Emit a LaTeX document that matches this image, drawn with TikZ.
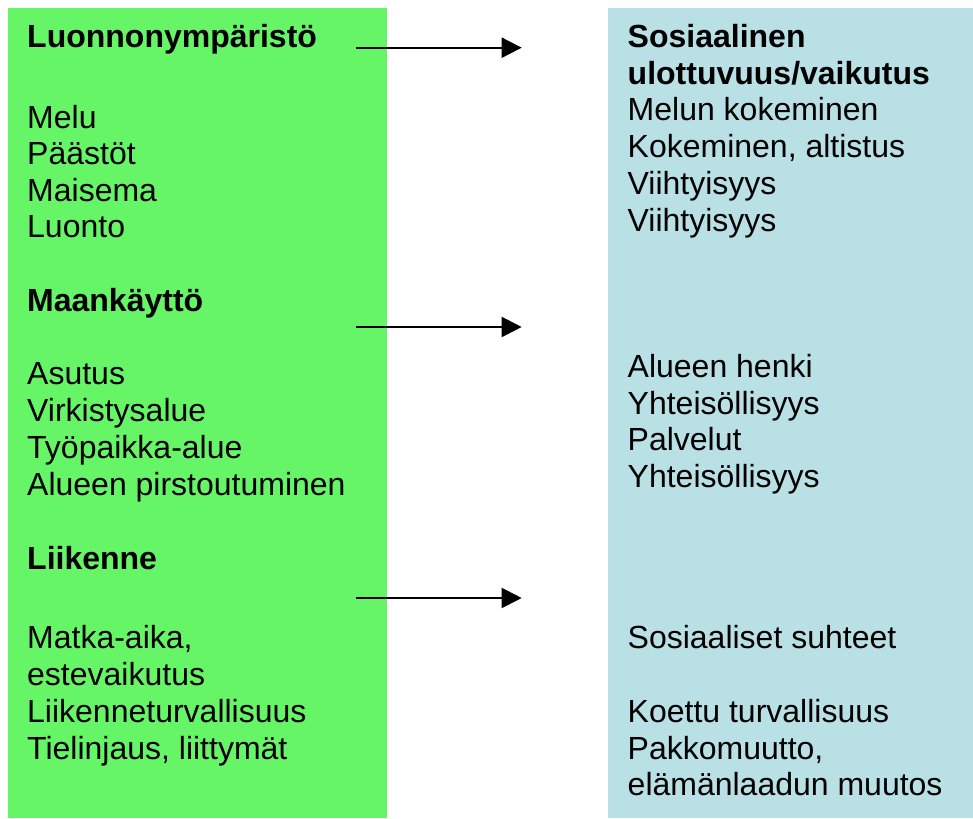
\documentclass[tikz,border=0pt]{standalone}
\usepackage{fontspec}
\setmainfont{Liberation Sans}
\usepackage{tikz}
\usetikzlibrary{arrows.meta}
\definecolor{luontogreen}{RGB}{102,245,102}
\definecolor{sosblue}{RGB}{185,224,228}
\tikzset{
  rivi/.style={anchor=base west, inner sep=0pt, font=\fontsize{32}{36.6}\selectfont},
  otsikko/.style={rivi, font=\fontsize{32}{36.6}\selectfont\bfseries},
  nuoli/.style={line width=2pt, -{Triangle[length=20pt,width=20pt]}}
}

\begin{document}
\begin{tikzpicture}[x=1pt, y=-1pt]
        \useasboundingbox (0,0) rectangle (973,818);
        \fill[luontogreen] (8,8) rectangle (387,818);
        \fill[sosblue] (608,8) rectangle (973,818);
        % vasen sarake
        \node[otsikko] (luonto) at (27,47.5) {Luonnonympäristö};
        \node[rivi] (melu) at (27,128.3) {Melu};
        \node[rivi] (paastot) at (27,164.8) {Päästöt};
        \node[rivi] (maisema) at (27,201.3) {Maisema};
        \node[rivi] (luontoa) at (27,237.8) {Luonto};
        \node[otsikko] (maankaytto) at (27,311.7) {Maankäyttö};
        \node[rivi] (asutus) at (27,384.5) {Asutus};
        \node[rivi] (virkistys) at (27,421.5) {Virkistysalue};
        \node[rivi] (tyopaikka) at (27,458.3) {Työpaikka-alue};
        \node[rivi] (pirstoutuminen) at (27,495.5) {Alueen pirstoutuminen};
        \node[otsikko] (liikenne) at (27,569) {Liikenne};
        \node[rivi] (matka) at (27,648.3) {Matka-aika,};
        \node[rivi] (este) at (27,685.5) {estevaikutus};
        \node[rivi] (turva) at (27,722.3) {Liikenneturvallisuus};
        \node[rivi] (tielinjaus) at (27,759) {Tielinjaus, liittymät};
        % oikea sarake
        \node[otsikko] (sosiaalinen) at (627.5,47.3) {Sosiaalinen};
        \node[otsikko] (ulottuvuus) at (627.5,84.2) {ulottuvuus/vaikutus};
        \node[rivi] (melunkok) at (627.5,121) {Melun kokeminen};
        \node[rivi] (altistus) at (627.5,157.7) {Kokeminen, altistus};
        \node[rivi] (viihty1) at (627.5,194.3) {Viihtyisyys};
        \node[rivi] (viihty2) at (627.5,231) {Viihtyisyys};
        \node[rivi] (henki) at (627.5,377.3) {Alueen henki};
        \node[rivi] (yhteis1) at (627.5,414) {Yhteisöllisyys};
        \node[rivi] (palvelut) at (627.5,450.7) {Palvelut};
        \node[rivi] (yhteis2) at (627.5,487.7) {Yhteisöllisyys};
        \node[rivi] (suhteet) at (627.5,648.3) {Sosiaaliset suhteet};
        \node[rivi] (koettu) at (627.5,722.3) {Koettu turvallisuus};
        \node[rivi] (pakko) at (627.5,759) {Pakkomuutto,};
        \node[rivi] (elama) at (627.5,795.7) {elämänlaadun muutos};
        % nuolet
        \coordinate (n1a) at (355.7,47.7);
        \coordinate (n1b) at (521.7,47.7);
        \coordinate (n2a) at (355.7,327);
        \coordinate (n2b) at (521.7,327);
        \coordinate (n3a) at (355.7,598);
        \coordinate (n3b) at (521.7,598);
        \draw[nuoli] (n1a) -- (n1b);
        \draw[nuoli] (n2a) -- (n2b);
        \draw[nuoli] (n3a) -- (n3b);
\end{tikzpicture}
\end{document}
